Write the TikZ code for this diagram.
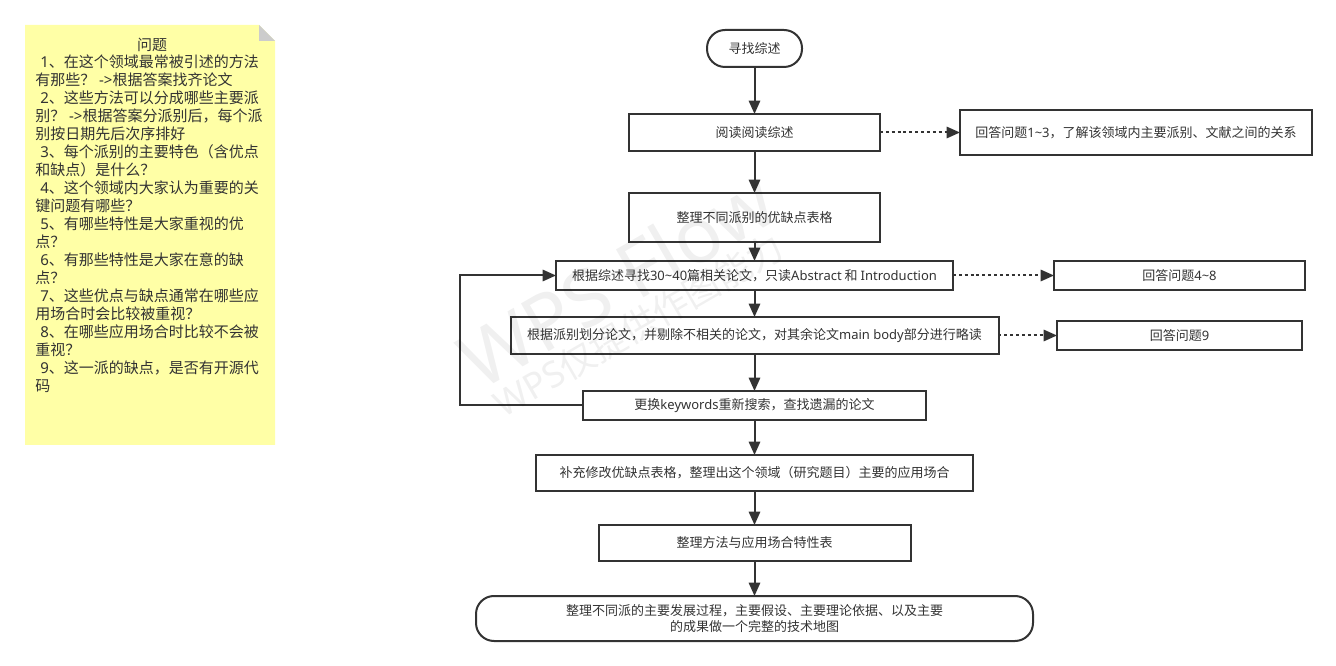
\documentclass[tikz,border=0pt]{standalone}
\usepackage{fontspec}
\setmainfont{Noto Sans CJK SC}
\newfontfamily\latf{Noto Sans}
\usetikzlibrary{arrows.meta}
\definecolor{ink}{HTML}{333333}
\definecolor{note}{HTML}{FFFFA6}
\definecolor{foldgrey}{HTML}{CCCCCC}
\tikzset{
  wh/.style 2 args={minimum width=#1*0.75pt,minimum height=#2*0.75pt},
  stepbox/.style={draw=ink,line width=1.5pt,fill=white,text=ink,inner sep=0pt,outer sep=0pt,font=\fontsize{9.75pt}{12pt}\selectfont,align=center},
  termbox/.style={stepbox,rounded corners=13.5pt},
  flow/.style={draw=ink,line width=1.5pt,-{Triangle[length=10pt,width=8.5pt]}},
  dotflow/.style={flow,dash pattern=on 2.2pt off 2.2pt},
  notetext/.style={text=ink,inner sep=0pt,font=\fontsize{11.25pt}{13.5pt}\selectfont},
  mark wm/.style={text=black,opacity=0.06,rotate=30,inner sep=0pt}
}
\newcommand{\ind}{\hspace*{3.75pt}}
\newcommand{\lat}[1]{{\latf #1}}
\begin{document}
\begin{tikzpicture}[x=0.75pt,y=-0.75pt]
\useasboundingbox (0,0) rectangle (1336,666);
% sticky note
\fill[note] (25,25) -- (259,25) -- (275,41) -- (275,445) -- (25,445) -- cycle;
\fill[foldgrey] (259,25) -- (275,41) -- (259,41) -- cycle;
\node[notetext,anchor=center] (ntitle) at (152,44.5) {问题};
\node[notetext,anchor=north west,align=left] (nbody) at (35,55) {%
\ind\lat{1}、在这个领域最常被引述的方法\\
有那些？\lat{ ->}根据答案找齐论文\\
\ind\lat{2}、这些方法可以分成哪些主要派\\
别？\lat{ ->}根据答案分派别后，每个派\\
别按日期先后次序排好\\
\ind\lat{3}、每个派别的主要特色（含优点\\
和缺点）是什么？\\
\ind\lat{4}、这个领域内大家认为重要的关\\
键问题有哪些？\\
\ind\lat{5}、有哪些特性是大家重视的优\\
点？\\
\ind\lat{6}、有那些特性是大家在意的缺\\
点？\\
\ind\lat{7}、这些优点与缺点通常在哪些应\\
用场合时会比较被重视？\\
\ind\lat{8}、在哪些应用场合时比较不会被\\
重视？\\
\ind\lat{9}、这一派的缺点，是否有开源代\\
码};
% flow nodes
\node[termbox,wh={95}{37}] (start) at (754.5,48.5) {寻找综述};
\node[stepbox,wh={251}{37}] (b1) at (754.5,132.5) {阅读阅读综述};
\node[stepbox,wh={352}{45}] (r1) at (1136,132.5) {回答问题\lat{1\textasciitilde 3}，了解该领域内主要派别、文献之间的关系};
\node[stepbox,wh={251}{49}] (b2) at (754.5,217.5) {整理不同派别的优缺点表格};
\node[stepbox,wh={397}{29}] (b3) at (754.5,275.5) {根据综述寻找\lat{30\textasciitilde 40}篇相关论文，只读\lat{Abstract} 和 \lat{Introduction}};
\node[stepbox,wh={251}{29}] (r2) at (1179.5,275.5) {回答问题\lat{4\textasciitilde 8}};
\node[stepbox,wh={488}{37}] (b4) at (754.5,335.5) {根据派别划分论文，并剔除不相关的论文，对其余论文\lat{main body}部分进行略读};
\node[stepbox,wh={245}{29}] (r3) at (1179.5,335.5) {回答问题\lat{9}};
\node[stepbox,wh={343}{29}] (b5) at (754.5,405.5) {更换\lat{keywords}重新搜索，查找遗漏的论文};
\node[stepbox,wh={437}{36}] (b6) at (754.5,473) {补充修改优缺点表格，整理出这个领域（研究题目）主要的应用场合};
\node[stepbox,wh={312}{36}] (b7) at (754.5,543) {整理方法与应用场合特性表};
\node[termbox,wh={557}{45}] (stop) at (754.5,618.5) {整理不同派的主要发展过程，主要假设、主要理论依据、以及主要\\的成果做一个完整的技术地图};
\coordinate (loopa) at (460,405.5);
\coordinate (loopb) at (460,275.5);
% connectors
\draw[flow] (start) -- (b1);
\draw[flow] (b1) -- (b2);
\draw[flow] (b2) -- (b3);
\draw[flow] (b3) -- (b4);
\draw[flow] (b4) -- (b5);
\draw[flow] (b5) -- (b6);
\draw[flow] (b6) -- (b7);
\draw[flow] (b7) -- (stop);
\draw[dotflow] (b1) -- (r1);
\draw[dotflow] (b3) -- (r2);
\draw[dotflow] (b4) -- (r3);
\draw[flow] (b5.west) -- (loopa) -- (loopb) -- (b3.west);
% watermark
\node[mark wm,font=\latf\fontsize{58pt}{58pt}\selectfont] (wm1) at (616,280) {WPS Flow};
\node[mark wm,font=\fontsize{27pt}{27pt}\selectfont] (wm2) at (638,325) {\lat{WPS}仅提供作图能力};
\end{tikzpicture}
\end{document}
